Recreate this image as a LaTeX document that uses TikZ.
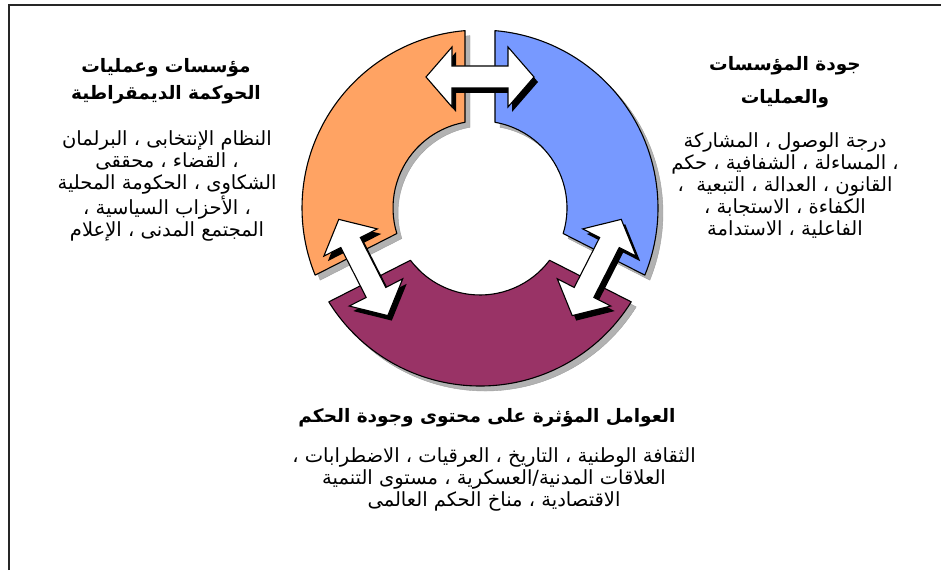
\documentclass[tikz,border=0pt]{standalone}
\usepackage{fontspec}
\newfontfamily\arabicfont[Script=Arabic]{DejaVu Sans}
\TeXXeTstate=1
\usepackage{xcolor}
\usepackage{tikz}
\usetikzlibrary{calc}

\definecolor{segorange}{RGB}{255,163,99}
\definecolor{segblue}{RGB}{119,153,255}
\definecolor{segmaroon}{RGB}{153,51,102}

\begin{document}
\begin{tikzpicture}[
    x=1pt, y=1pt,
    frame/.style={draw=black!85, line width=1.6pt},
    segment/.style={draw=black, line width=1.1pt, line join=round},
    segshadow/.style={fill=gray!60, draw=gray!75, line width=0.4pt},
    arrowbody/.style={fill=white, draw=black, line width=1.1pt, line join=miter},
    arrowshadow/.style={fill=black},
    heading/.style={font=\arabicfont\bfseries\fontsize{18.5}{27}\selectfont, align=center, inner sep=0pt},
    bodytext/.style={font=\arabicfont\fontsize{19.5}{22}\selectfont, align=center, inner sep=0pt},
]
    \useasboundingbox (0,0) rectangle (941,570);
    \draw[frame] (9,0) -- (9,565) -- (941,565);

    % ring segments: outer start/end, inner end/start, colour
    \def\Rout{178}
    \def\Rin{87}
    \begin{scope}[shift={(480,362)}]
        \foreach \os/\oe/\ie/\is/\col in {94.83/202.17/197.07/99.93/segorange,
                                          85.17/-22.17/-17.07/80.07/segblue,
                                          211.83/328.17/323.07/216.93/segmaroon}{
            \path[segshadow, shift={(5,-5)}] (\os:\Rout) arc[start angle=\os, end angle=\oe, radius=\Rout]
                -- (\ie:\Rin) arc[start angle=\ie, end angle=\is, radius=\Rin] -- cycle;
        }
        \foreach \os/\oe/\ie/\is/\col in {94.83/202.17/197.07/99.93/segorange,
                                          85.17/-22.17/-17.07/80.07/segblue,
                                          211.83/328.17/323.07/216.93/segmaroon}{
            \path[segment, fill=\col] (\os:\Rout) arc[start angle=\os, end angle=\oe, radius=\Rout]
                -- (\ie:\Rin) arc[start angle=\ie, end angle=\is, radius=\Rin] -- cycle;
        }

        % double arrows across the gaps
        \foreach \ang/\rot in {90/0, 207/117, -27/63}{
            \path[arrowshadow, shift={($(\ang:131)+(4,-5)$)}, rotate=\rot]
                (-54,0) -- (-28,30) -- (-28,11) -- (28,11) -- (28,30) -- (54,0)
                -- (28,-30) -- (28,-11) -- (-28,-11) -- (-28,-30) -- cycle;
            \path[arrowbody, shift={(\ang:131)}, rotate=\rot]
                (-54,0) -- (-28,30) -- (-28,11) -- (28,11) -- (28,30) -- (54,0)
                -- (28,-30) -- (28,-11) -- (-28,-11) -- (-28,-30) -- cycle;
        }
    \end{scope}

    \node[heading] (lefttitle) at (166,489) {\beginR مؤسسات وعمليات\endR\\\beginR الحوكمة الديمقراطية\endR};
    \node[bodytext] (leftbody) at (167,384) {\beginR النظام الإنتخابى ، البرلمان\endR\\
        \beginR ، القضاء ، محققى\endR\\
        \beginR الشكاوى ، الحكومة المحلية\endR\\
        \beginR ، الأحزاب السياسية ،\endR\\
        \beginR المجتمع المدنى ، الإعلام\endR};

    \node[heading] (righttitle) at (785,488) {\beginR جودة المؤسسات\endR\\[6pt]\beginR والعمليات\endR};
    \node[bodytext] (rightbody) at (785,384) {\beginR درجة الوصول ، المشاركة\endR\\
        \beginR ، المساءلة ، الشفافية ، حكم\endR\\
        \beginR القانون ، العدالة ، التبعية \ ،\endR\\
        \beginR الكفاءة ، الاستجابة ،\endR\\
        \beginR الفاعلية ، الاستدامة\endR};

    \node[heading] (bottomtitle) at (487,152) {\beginR العوامل المؤثرة على محتوى وجودة الحكم\endR};
    \node[bodytext] (bottombody) at (494,91) {\beginR الثقافة الوطنية ، التاريخ ، العرقيات ، الاضطرابات ،\endR\\
        \beginR العلاقات المدنية/العسكرية ، مستوى التنمية\endR\\
        \beginR الاقتصادية ، مناخ الحكم العالمى\endR};
\end{tikzpicture}
\end{document}
